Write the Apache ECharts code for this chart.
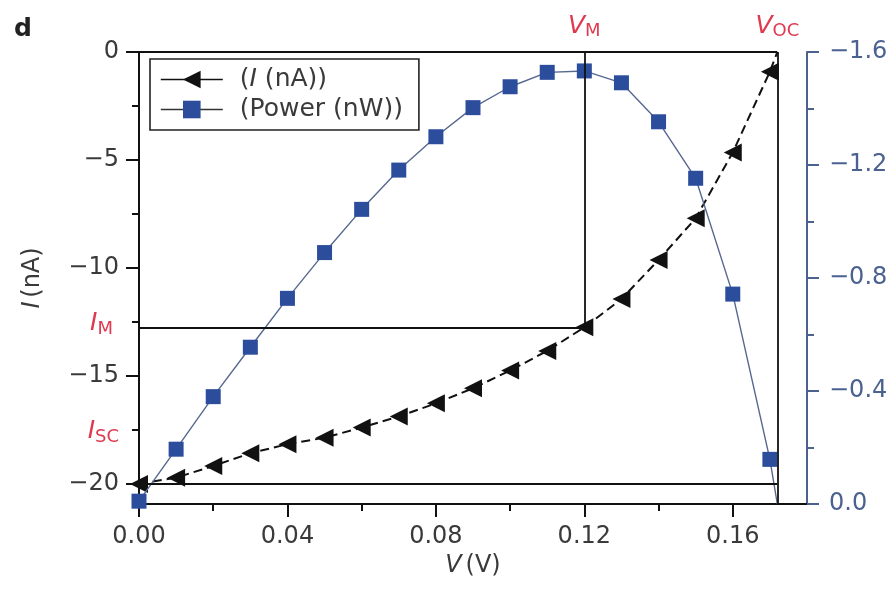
<!DOCTYPE html>
<html>
<head>
<meta charset="utf-8">
<script src="https://cdn.jsdelivr.net/npm/echarts@6/dist/echarts.min.js"></script>
<style>
html,body{margin:0;padding:0;background:#fff;}
#chart{width:893px;height:590px;}
</style>
</head>
<body>
<div id="chart"></div>
<script>
// ---- data ----
const voltage = [0.00, 0.01, 0.02, 0.03, 0.04, 0.05, 0.06, 0.07, 0.08, 0.09, 0.10, 0.11, 0.12, 0.13, 0.14, 0.15, 0.16, 0.17];
const current = [-20.0, -19.71, -19.17, -18.58, -18.16, -17.86, -17.39, -16.88, -16.27, -15.57, -14.75, -13.84, -12.75, -11.44, -9.63, -7.70, -4.65, -0.91];
const power = [-0.01, -0.194, -0.380, -0.555, -0.728, -0.890, -1.043, -1.182, -1.300, -1.403, -1.477, -1.528, -1.533, -1.491, -1.353, -1.153, -0.743, -0.158];
const vOC = 0.172;
const vM = 0.12;
const iM = -12.75;
const iSC = -20.0;
const xMajorTicks = [0, 0.04, 0.08, 0.12, 0.16];
const xMinorTicks = [0.02, 0.06, 0.10, 0.14];
const iMajorTicks = [-20, -15, -10, -5, 0];
const iMinorTicks = [-17.5, -12.5, -7.5, -2.5];
const pMajorTicks = [0, -0.4, -0.8, -1.2, -1.6];
const pMinorTicks = [-0.2, -0.6, -1.0, -1.4];
const seriesNames = ['I (nA)', 'Power (nW)'];

const FONT = 'DejaVu Sans';
const TXT = '#3a3a3a';
const RED = '#e0394f';
const BLUE_AX = '#4b6190';
const FS = 24;
const minus = s => String(s).replace('-', '\u2212');

const chart = echarts.init(document.getElementById('chart'), null, {renderer: 'canvas'});

const grid = {left: 139, right: 86, top: 52, bottom: 86};
const iMin = -20.93;

const currentData = voltage.map((v, i) => [v, current[i]]);
currentData.push({value: [vOC, 0], symbol: 'none'});
const powerData = voltage.map((v, i) => [v, power[i]]);
powerData.push({value: [vOC, 0], symbol: 'none'});

const lineBlack = {color: '#111', width: 1.8, type: 'solid'};

const option = {
  animation: false,
  backgroundColor: '#fff',
  textStyle: {fontFamily: FONT},
  grid: grid,
  legend: {
    left: 150, top: 59,
    orient: 'vertical',
    padding: [8, 16, 8, 10],
    itemGap: 5,
    itemWidth: 62,
    itemHeight: 22,
    borderColor: '#222',
    borderWidth: 1.6,
    borderRadius: 0,
    backgroundColor: '#fff',
    data: [
      {name: seriesNames[0], lineStyle: {type: 'solid', width: 1.6, color: '#111'}},
      {name: seriesNames[1], lineStyle: {width: 1.6, color: '#333'}}
    ],
    formatter: n => n === seriesNames[0] ? '{t|(}{i|I}{t| (nA))}' : '{t|(Power (nW))}',
    textStyle: {
      padding: [0, 0, 0, 12],
      rich: {
        t: {fontFamily: FONT, fontSize: 25, color: TXT, lineHeight: 30},
        i: {fontFamily: FONT, fontSize: 25, color: TXT, fontStyle: 'italic', lineHeight: 30}
      }
    }
  },
  xAxis: [
    {
      type: 'value', min: 0, max: 0.18, position: 'bottom',
      name: '{i|V} {t|(V)}', nameLocation: 'middle', nameGap: 44,
      nameTextStyle: {rich: {
        i: {fontFamily: FONT, fontSize: FS, fontStyle: 'italic', color: TXT},
        t: {fontFamily: FONT, fontSize: FS, color: TXT}
      }},
      axisLine: {onZero: false, lineStyle: {color: '#111', width: 2}},
      axisTick: {customValues: xMajorTicks, length: 13, lineStyle: {color: '#111', width: 2}},
      axisLabel: {customValues: xMajorTicks, formatter: v => v.toFixed(2), fontFamily: FONT, fontSize: FS, color: TXT, margin: 21},
      splitLine: {show: false}
    },
    {
      type: 'value', min: 0, max: 0.18, position: 'bottom',
      axisLine: {show: false, onZero: false},
      axisTick: {customValues: xMinorTicks, length: 7, lineStyle: {color: '#111', width: 2}},
      axisLabel: {show: false},
      splitLine: {show: false}
    }
  ],
  yAxis: [
    {
      type: 'value', min: iMin, max: 0, position: 'left',
      name: '{i|I} {t|(nA)}', nameLocation: 'middle', nameGap: 94, nameRotate: 90,
      nameTextStyle: {rich: {
        i: {fontFamily: FONT, fontSize: FS, fontStyle: 'italic', color: TXT},
        t: {fontFamily: FONT, fontSize: FS, color: TXT}
      }},
      axisLine: {onZero: false, lineStyle: {color: '#111', width: 2}},
      axisTick: {customValues: iMajorTicks, length: 13, lineStyle: {color: '#111', width: 2}},
      axisLabel: {customValues: iMajorTicks, formatter: v => minus(v), fontFamily: FONT, fontSize: FS, color: TXT, margin: 20},
      splitLine: {show: false}
    },
    {
      type: 'value', min: iMin, max: 0, position: 'left',
      axisLine: {show: false, onZero: false},
      axisTick: {customValues: iMinorTicks, length: 7, lineStyle: {color: '#111', width: 2}},
      axisLabel: {show: false},
      splitLine: {show: false}
    },
    {
      type: 'value', min: -1.6, max: 0, inverse: true, position: 'right',
      axisLine: {onZero: false, lineStyle: {color: BLUE_AX, width: 2}},
      axisTick: {customValues: pMajorTicks, length: 12, lineStyle: {color: BLUE_AX, width: 2}},
      axisLabel: {customValues: pMajorTicks, formatter: v => minus((v === 0 ? 0 : v).toFixed(1)), fontFamily: FONT, fontSize: FS, color: BLUE_AX, margin: 22},
      splitLine: {show: false}
    },
    {
      type: 'value', min: -1.6, max: 0, inverse: true, position: 'right',
      axisLine: {show: false, onZero: false},
      axisTick: {customValues: pMinorTicks, length: 7, lineStyle: {color: BLUE_AX, width: 2}},
      axisLabel: {show: false},
      splitLine: {show: false}
    }
  ],
  series: [
    {
      name: seriesNames[0], type: 'line', xAxisIndex: 0, yAxisIndex: 0,
      data: currentData,
      symbol: 'triangle', symbolSize: 18, symbolRotate: 90,
      itemStyle: {color: '#111'},
      lineStyle: {color: '#111', width: 2, type: [9, 5]},
      clip: false, z: 3,
      markLine: {
        silent: true, symbol: 'none', animation: false,
        label: {show: false},
        lineStyle: lineBlack,
        data: [
          [{coord: [0, 0]}, {coord: [vOC, 0]}],
          [{coord: [vM, 0]}, {coord: [vM, iM]}],
          [{coord: [0, iM]}, {coord: [vM, iM]}],
          [{coord: [0, iSC]}, {coord: [vOC, iSC]}],
          [{coord: [vOC, 0]}, {coord: [vOC, iMin]}]
        ]
      }
    },
    {
      name: seriesNames[1], type: 'line', xAxisIndex: 0, yAxisIndex: 2,
      data: powerData,
      symbol: 'rect', symbolSize: 15,
      itemStyle: {color: '#2c4c9c'},
      lineStyle: {color: '#56688f', width: 1.4},
      clip: false, z: 4
    }
  ]
};
chart.setOption(option);

function px(v, i) { return chart.convertToPixel({xAxisIndex: 0, yAxisIndex: 0}, [v, i]); }
const pVM = px(vM, 0), pVOC = px(vOC, 0), pIM = px(0, -12.5), pISC = px(0, -17.5);
const redRich = {
  i: {fontFamily: FONT, fontSize: 25, fontStyle: 'italic', fill: RED, fontWeight: 'normal'},
  s: {fontFamily: FONT, fontSize: 18, fill: RED, verticalAlign: 'bottom', padding: [10, 0, 0, 0]}
};
chart.setOption({
  graphic: [
    {type: 'text', x: pVM[0], y: pVM[1] - 12, style: {text: '{i|V}{s|M}', rich: redRich, align: 'center', verticalAlign: 'bottom'}},
    {type: 'text', x: pVOC[0], y: pVOC[1] - 12, style: {text: '{i|V}{s|OC}', rich: redRich, align: 'center', verticalAlign: 'bottom'}},
    {type: 'text', x: pIM[0] - 26, y: pIM[1] + 2, style: {text: '{i|I}{s|M}', rich: redRich, align: 'right', verticalAlign: 'middle'}},
    {type: 'text', x: pISC[0] - 20, y: pISC[1] + 2, style: {text: '{i|I}{s|SC}', rich: redRich, align: 'right', verticalAlign: 'middle'}},
    {type: 'text', left: 14, top: 17, style: {text: 'd', font: 'bold 25px "DejaVu Sans"', fill: '#222'}}
  ]
});
</script>
</body>
</html>
